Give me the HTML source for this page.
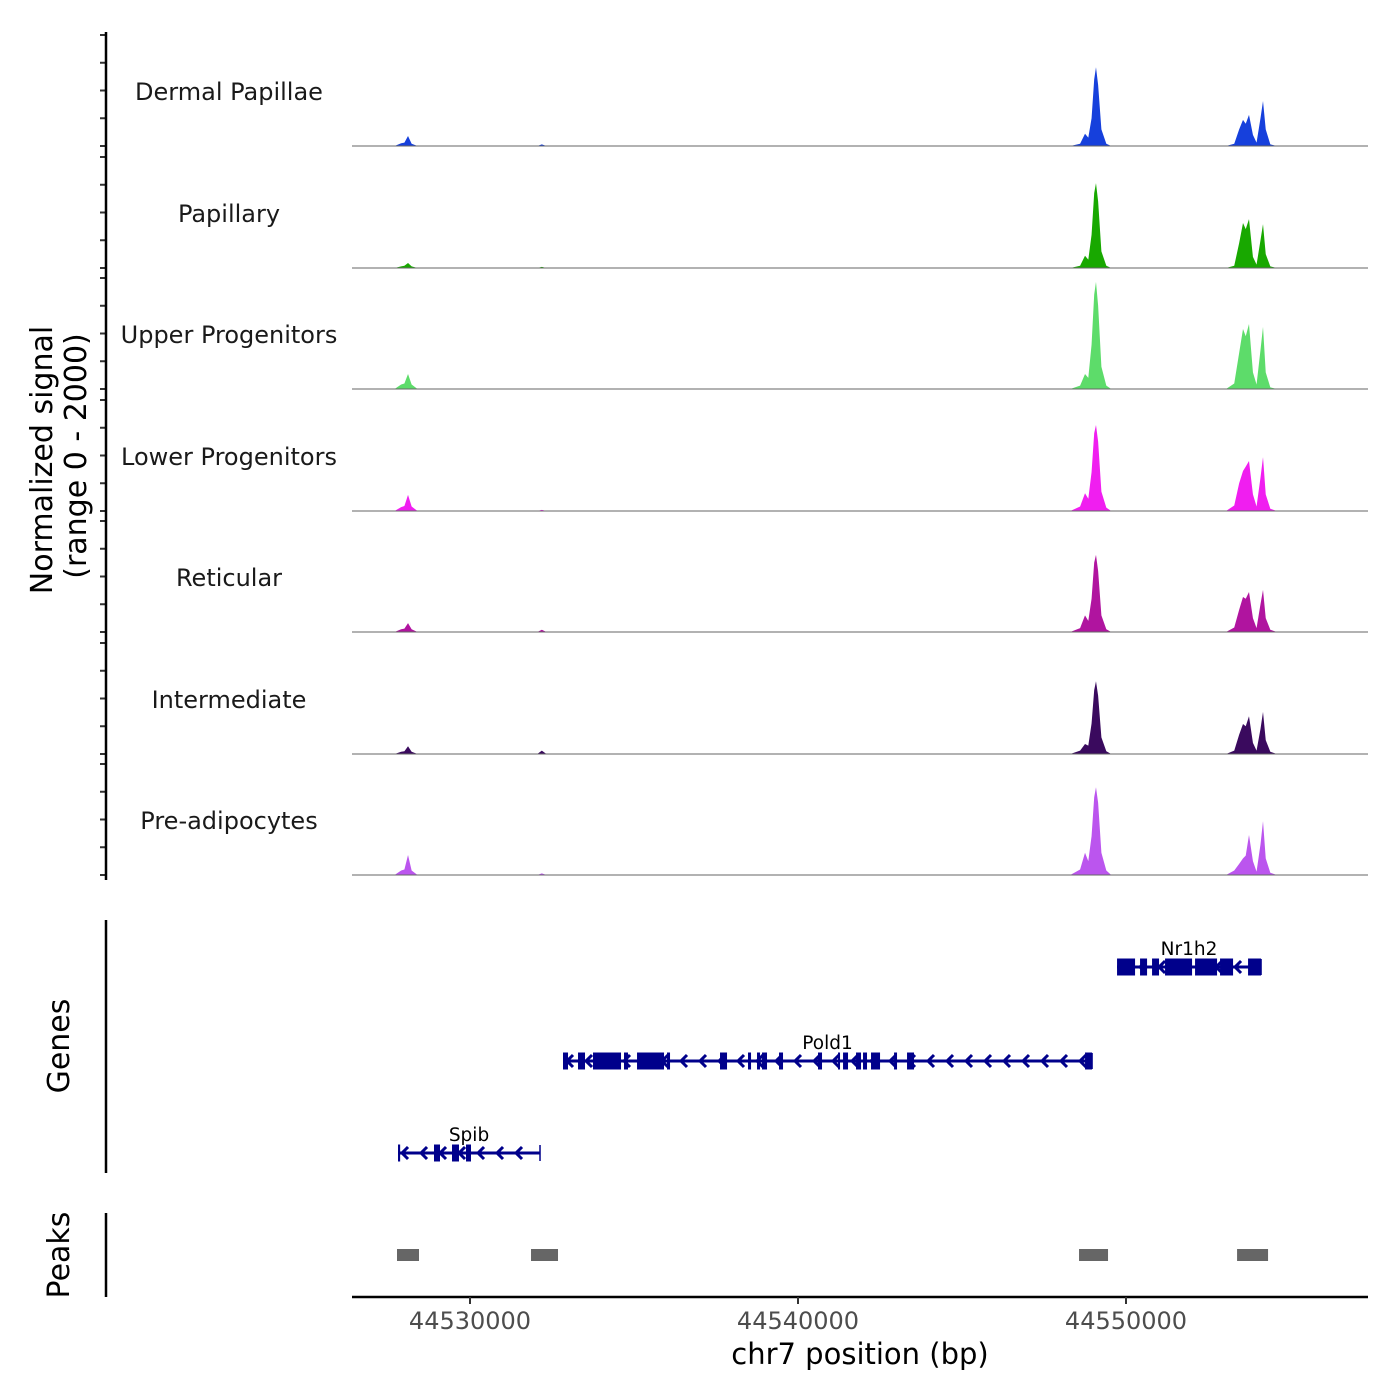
<!DOCTYPE html>
<html><head><meta charset="utf-8"><style>
html,body{margin:0;padding:0;background:#fff;}
svg{display:block;font-family:"DejaVu Sans","Liberation Sans",sans-serif;}
</style></head><body>
<svg id="chart" width="1400" height="1400" viewBox="0 0 1400 1400">
<g id="tracks"></g>
<g id="genes"></g>
<g id="peaks"></g>
<g id="axes"></g>
<text x="0" y="0" transform="translate(52,460) rotate(-90)" text-anchor="middle" font-size="30" fill="#000">Normalized signal</text>
<text x="0" y="0" transform="translate(86,456) rotate(-90)" text-anchor="middle" font-size="30" fill="#000">(range 0 - 2000)</text>
<text x="0" y="0" transform="translate(69,1046) rotate(-90)" text-anchor="middle" font-size="30" fill="#000">Genes</text>
<text x="0" y="0" transform="translate(69,1255) rotate(-90)" text-anchor="middle" font-size="30" fill="#000">Peaks</text>
<text x="860" y="1364" text-anchor="middle" font-size="29" fill="#000">chr7 position (bp)</text>
</svg>
<script>
const trackNames = ["Dermal Papillae","Papillary","Upper Progenitors","Lower Progenitors","Reticular","Intermediate","Pre-adipocytes"];
const trackColors = ["#1640dc","#18a800","#5ddc6a","#f01ef0","#b0149f","#3a0a5e","#bb55ee"];
const positions = [44526402,44527700,44527900,44528000,44528110,44528220,44528400,44532050,44532190,44532330,44548300,44548600,44548750,44548850,44548950,44549030,44549085,44549150,44549250,44549400,44549550,44553050,44553300,44553450,44553567,44553650,44553750,44553870,44553980,44554100,44554177,44554260,44554400,44554600,44557378];
const dermalValues = [0,0,50,60,180,40,0,0,30,0,0,40,220,150,500,1200,1420,1100,300,40,0,0,40,300,470,400,560,200,60,500,810,300,30,0,0];
const papillaryValues = [0,0,30,40,90,30,0,0,20,0,0,40,220,150,600,1350,1530,1200,300,40,0,0,40,450,810,700,880,200,60,500,790,250,30,0,0];
const upperValues = [0,0,80,100,270,80,0,0,10,0,0,60,270,200,800,1700,1930,1500,400,60,0,0,100,650,1080,950,1170,300,80,700,1120,300,30,0,0];
const lowerValues = [0,0,70,90,290,80,0,0,20,0,0,80,320,220,700,1400,1550,1250,350,60,0,0,100,500,720,800,900,300,80,600,970,300,40,0,0];
const reticularValues = [0,0,50,60,160,50,0,0,40,0,0,70,300,200,600,1250,1390,1100,300,50,0,0,80,400,630,600,720,250,70,500,760,250,40,0,0];
const intermediateValues = [0,0,40,50,140,40,0,0,60,0,0,60,180,150,550,1150,1310,1050,300,50,0,0,60,350,540,500,680,200,60,450,760,250,40,0,0];
const preadipValues = [0,0,80,100,360,80,0,0,30,0,0,100,400,250,700,1400,1580,1300,400,80,0,0,80,200,300,350,720,250,60,550,970,300,40,0,0];
const seriesValues = [dermalValues,papillaryValues,upperValues,lowerValues,reticularValues,intermediateValues,preadipValues];
const yMax = 2000;
const xTicks = [44530000,44540000,44550000];
const xTickLabels = ["44530000","44540000","44550000"];
const geneNames = ["Spib","Pold1","Nr1h2"];
const geneStarts = [44527805,44532835,44549727];
const geneEnds = [44532134,44548965,44554117];
const spibExons = [[44527805,44527870],[44528902,44529085],[44529451,44529664],[44529878,44530030]];
const pold1Exons = [[44532835,44532988],[44533293,44533506],[44533750,44534604],[44534695,44534817],[44535092,44535915],[44536006,44536098],[44537622,44537836],[44538476,44538568],[44538750,44538842],[44538903,44539055],[44539421,44539543],[44540610,44540732],[44541220,44541281],[44541373,44541525],[44541769,44541921],[44541982,44542104],[44542226,44542501],[44542928,44543019],[44543324,44543537],[44548751,44548965]];
const nr1h2Exons = [[44549727,44550276],[44550428,44550642],[44550794,44551007],[44551190,44552014],[44552105,44552776],[44552867,44553264],[44553721,44554117]];
const peakStarts = [44527774,44531860,44548568,44553386];
const peakEnds = [44528445,44532683,44549452,44554331];

const NS = "http://www.w3.org/2000/svg";
const X0 = 352, X1 = 1368, BP0 = 44526402, BP1 = 44557378;
function xs(bp){ return X0 + (bp - BP0) / (BP1 - BP0) * (X1 - X0); }
const baselines = [146,268,389,511,632,754,875];
const trackH = 111;
function ys(v, i){ return baselines[i] - v / yMax * trackH; }
function mk(tag, attrs, parent){ const e = document.createElementNS(NS, tag); for (const k in attrs) e.setAttribute(k, attrs[k]); parent.appendChild(e); return e; }

const gT = document.getElementById("tracks");
const gA = document.getElementById("axes");
seriesValues.forEach((vals, i) => {
  let d = "M" + xs(positions[0]) + "," + baselines[i];
  positions.forEach((p, j) => { d += " L" + xs(p).toFixed(2) + "," + ys(vals[j], i).toFixed(2); });
  d += " L" + xs(positions[positions.length-1]) + "," + baselines[i] + " Z";
  const area = mk("path", {d: d, fill: trackColors[i], stroke: "none"}, gT);
  
  
  const bl = mk("line", {x1: X0, x2: X1, y1: baselines[i], y2: baselines[i], stroke: "#666", "stroke-width": 1}, gT);
  
  
  const lbl = mk("text", {x: 229, y: baselines[i] - 46, "text-anchor": "middle", "font-size": 24, fill: "#1a1a1a"}, gT);
  lbl.textContent = trackNames[i];
  
  
  for (let t = 0; t <= 4; t++) {
    const y = baselines[i] - t * trackH / 4;
    const tk = mk("line", {x1: 100, x2: 106, y1: y, y2: y, stroke: "#333", "stroke-width": 2}, gA);
    
    
  }
});
[[32,880],[920,1173],[1213,1297]].forEach(r => {
  const l = mk("line", {x1: 106, x2: 106, y1: r[0], y2: r[1], stroke: "#000", "stroke-width": 2.5}, gA);
  
  
});
const xa = mk("line", {x1: X0, x2: X1, y1: 1297, y2: 1297, stroke: "#000", "stroke-width": 2.5}, gA);


xTicks.forEach((t, i) => {
  const tk = mk("line", {x1: xs(t), x2: xs(t), y1: 1297, y2: 1304, stroke: "#333", "stroke-width": 2}, gA);
  
  
  const tl = mk("text", {x: xs(t), y: 1329, "text-anchor": "middle", "font-size": 24, fill: "#4d4d4d"}, gA);
  tl.textContent = xTickLabels[i];
  
  
});
const gG = document.getElementById("genes");
const geneRows = [1153, 1061, 967];
const exonSets = [spibExons, pold1Exons, nr1h2Exons];
const col = "#00008b";
geneNames.forEach((name, i) => {
  const y = geneRows[i];
  const g = mk("g", {}, gG);
  
  
  const xa0 = xs(geneStarts[i]), xa1 = xs(geneEnds[i]);
  mk("line", {x1: xa0, x2: xa1, y1: y, y2: y, stroke: col, "stroke-width": 3}, g);
  mk("line", {x1: xa1, x2: xa1, y1: y - 8, y2: y + 8, stroke: col, "stroke-width": 1.5}, g);
  for (let x = xa0 + 4; x < xa1 - 6; x += 19) {
    const ch = mk("path", {d: "M" + (x + 6) + "," + (y - 6) + " L" + x + "," + y + " L" + (x + 6) + "," + (y + 6), fill: "none", stroke: col, "stroke-width": 3}, g);
    
    
  }
  exonSets[i].forEach(ex => {
    const r = mk("rect", {x: xs(ex[0]), y: y - 8.5, width: Math.max(2, xs(ex[1]) - xs(ex[0])), height: 17, fill: col}, g);
    
    
  });
  const t = mk("text", {x: (xs(geneStarts[i]) + xs(geneEnds[i])) / 2, y: y - 12, "text-anchor": "middle", "font-size": 18.5, fill: "#000"}, g);
  t.textContent = name;
  
  
});
const gP = document.getElementById("peaks");
peakStarts.forEach((s, i) => {
  const r = mk("rect", {x: xs(s), y: 1249, width: xs(peakEnds[i]) - xs(s), height: 12, fill: "#666"}, gP);
  
  
});
</script>
</body></html>
